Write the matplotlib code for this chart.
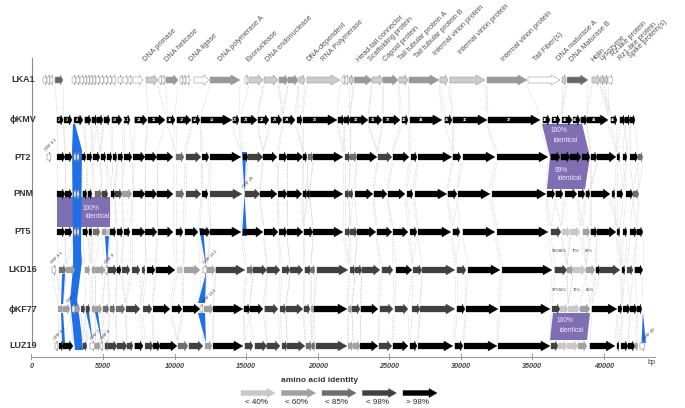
import matplotlib
matplotlib.use('Agg')
import matplotlib.pyplot as plt
from matplotlib.patches import Polygon

plt.rcParams['font.family'] = ['Liberation Sans', 'DejaVu Sans']

# ---------------- data ----------------
ROWS = ['LKA1', 'ϕKMV', 'PT2', 'PNM', 'PT5', 'LKD16', 'ϕKF77', 'LUZ19']

# LKA1 genes: (start bp, end bp, shade 0=white 1=light 2=mid 3=dark)
LKA1 = [(810, 1090, 0), (1090, 1300, 0), (1300, 1510, 0), (1650, 2210, 3),
        (2840, 3120, 0), (3120, 3400, 0), (3400, 3670, 0), (3670, 3880, 0), (3880, 4090, 0),
        (4090, 4300, 0), (4300, 4510, 0), (4510, 4790, 0), (4790, 5070, 0), (5070, 5350, 0),
        (5350, 5630, 0), (5630, 5910, 0), (6050, 6330, 0), (6400, 6750, 0), (6750, 7030, 0),
        (7100, 7800, 0), (8010, 8840, 1), (8910, 9120, 0), (9120, 9330, 0), (9400, 10240, 2),
        (10380, 10590, 0), (10590, 10800, 0), (10800, 11080, 0), (11360, 12410, 0),
        (12480, 14570, 2), (14920, 15130, 0), (15200, 16180, 1), (16250, 17230, 1),
        (17300, 17930, 2), (17930, 18630, 2), (18690, 19110, 1), (19250, 21560, 1),
        (21700, 21910, 0), (21910, 22120, 0), (22190, 22470, 1), (22540, 23790, 2),
        (23790, 24560, 1), (24560, 25610, 2), (25680, 26310, 1), (26380, 28470, 2),
        (28540, 29100, 1), (29240, 31690, 1), (31830, 34620, 2), (34690, 36930, 0),
        (37070, 37350, 1), (37420, 38880, 3), (39160, 39720, 1), (39720, 40000, 1),
        (40000, 40280, 1), (40280, 40630, 0)]

LKA1_FUNCTIONS = [(8080, 63, 'DNA primase'), (9540, 63, 'DNA helicase'), (11290, 63, 'DNA ligase'),
                  (13320, 63, 'DNA polymerase A'), (15270, 63, 'Exonuclease'),
                  (16600, 63, 'DNA endonuclease'), (19460, 63, 'DNA-dependent'),
                  (20510, 63, 'RNA Polymerase'), (22960, 63, 'Head-tail connector'),
                  (23790, 63, 'Scaffolding protein'), (24840, 63, 'Capsid protein'),
                  (25890, 62, 'Tail tubular protein A'), (27010, 60, 'Tail tubular protein B'),
                  (28340, 57, 'Internal virion protein'), (30080, 56, 'Internal virion protein'),
                  (33090, 63, 'Internal virion protein'), (35320, 63, 'Tail Fiber(s)'),
                  (36930, 62, 'DNA maturase A'), (37840, 63, 'DNA Maturase B'),
                  (39370, 63, 'Holin'), (39930, 62, 'Lysozyme'), (40770, 58, 'Rz-like protein'),
                  (41260, 62, 'Rz1-like protein'), (41960, 60, 'Spike protein(s)')]

# phiKMV genes (start, end, label); all > 98 %
KMV = [(1790, 2210, '2'), (2280, 2840, '3'), (2980, 3600, '4'), (3740, 4160, ''), (4230, 4580, ''),
       (4580, 5000, ''), (5070, 5490, ''), (5630, 6330, '12'), (6470, 6890, '12.1'),
       (7230, 8080, '14'), (8150, 9330, '15'), (9470, 10030, '16'), (10170, 11150, '17'),
       (11220, 11780, '18'), (11850, 14010, '19'), (14080, 14500, '20'), (14640, 15760, '21'),
       (15830, 16600, '22'), (16740, 17510, '23'), (17580, 18420, '24'), (18560, 18900, ''),
       (18970, 21350, '26'), (21420, 21840, ''), (21840, 22260, ''), (22260, 23510, '30'),
       (23580, 24490, '31'), (24560, 25750, '32'), (25890, 26310, '33'), (26450, 28680, '34'),
       (28890, 29380, '35'), (29450, 31830, '36'), (31900, 35530, '37'), (35740, 36230, '38'),
       (36370, 36930, '39'), (37070, 37770, '40'), (37840, 38330, '41'), (38390, 38810, ''),
       (38810, 40280, '43'), (40490, 40910, '45'), (41120, 41470, ''), (41470, 41820, ''),
       (41820, 42170, '')]

# identity class: 0 none, 1 <40, 2 <60, 3 <85, 4 <98, 5 >98
PT2 = [(1090, 1370, 0), (1790, 2350, 5), (2350, 2840, 5), (2980, 3120, 0), (3190, 3330, 0),
       (3530, 3810, 5), (3880, 4230, 5), (4300, 4790, 5), (4860, 5210, 5), (5280, 5630, 5),
       (5700, 5980, 5), (6050, 6400, 5), (6470, 7030, 5), (7100, 7940, 5), (7940, 8770, 5),
       (8770, 9890, 5), (10100, 10660, 3), (10800, 11850, 4), (11920, 12400, 5), (12480, 14640, 5),
       (14780, 15130, 5), (15130, 16180, 4), (16180, 17160, 5), (17300, 17860, 5),
       (17860, 18970, 5), (18970, 19250, 5), (19320, 19670, 3), (19670, 21770, 5),
       (21910, 22260, 4), (22260, 22750, 3), (22750, 24140, 5), (24210, 25190, 4),
       (25260, 26380, 5), (26520, 26940, 5), (27010, 29380, 5), (29450, 30010, 5),
       (30150, 32390, 5), (32530, 36090, 5), (36300, 36930, 5), (37000, 37630, 5),
       (37630, 38390, 5), (38470, 39020, 5), (39090, 39510, 5), (39510, 40840, 5),
       (40910, 41120, 5), (41330, 41610, 5), (41820, 42370, 5), (42370, 42720, 3)]

PNM = [(1790, 2350, 5), (2350, 2840, 5), (2980, 3120, 0), (3190, 3330, 0), (3600, 3880, 5),
       (3950, 4230, 5), (4440, 4930, 3), (4930, 5350, 4), (5560, 5840, 5), (5840, 6330, 4),
       (6330, 7030, 2), (7100, 7940, 5), (7940, 8770, 5), (8770, 9890, 5), (10100, 10660, 3),
       (10800, 11850, 4), (11920, 12340, 5), (12480, 14710, 4), (14920, 15970, 4),
       (15970, 17160, 5), (17230, 17860, 5), (17860, 18900, 5), (18970, 19250, 5),
       (19250, 19460, 5), (19460, 21770, 5), (21910, 22190, 4), (22190, 22470, 4),
       (22610, 23860, 5), (23930, 24840, 5), (24910, 26100, 5), (26240, 26660, 5),
       (26800, 29030, 5), (29100, 29730, 5), (29800, 32040, 5), (32180, 35950, 5),
       (36020, 36570, 5), (36640, 37140, 5), (37280, 38110, 5), (38190, 38670, 5),
       (38740, 39020, 5), (39090, 40420, 5), (40560, 40770, 5), (40910, 41330, 5),
       (41540, 42030, 5), (42030, 42440, 3)]

PT5 = [(1790, 2350, 5), (2350, 2840, 5), (2980, 3120, 0), (3190, 3330, 0), (3600, 3950, 5),
       (4020, 4230, 5), (4300, 4790, 3), (4930, 5280, 2), (5280, 5490, 1), (5490, 5910, 5),
       (5980, 6400, 5), (6470, 6890, 5), (7030, 7940, 5), (7940, 8770, 5), (8840, 9890, 5),
       (10100, 10590, 5), (10730, 11640, 5), (11780, 12480, 5), (12480, 14640, 5),
       (14780, 16180, 5), (16250, 17230, 5), (17300, 17860, 5), (17860, 18970, 5),
       (19040, 19670, 5), (19670, 21770, 5), (21910, 22260, 4), (22260, 22750, 4),
       (22750, 24070, 5), (24140, 25190, 5), (25260, 26310, 5), (26450, 26940, 5),
       (27010, 29310, 5), (29450, 29940, 5), (30150, 32390, 5), (32530, 36090, 5),
       (36300, 37000, 4), (37070, 37630, 1), (37630, 38330, 1), (38530, 39020, 2),
       (39090, 39510, 5), (39510, 40840, 5), (40910, 41120, 5), (41330, 41610, 5),
       (41820, 42300, 5), (42300, 42720, 5)]

LKD16 = [(1440, 1720, 0), (1930, 2420, 3), (2420, 3050, 2), (3740, 4090, 2), (4230, 4440, 2),
         (4440, 5140, 2), (5140, 5350, 0), (5350, 5980, 4), (5980, 6260, 5), (6330, 6890, 4),
         (7030, 7590, 4), (7730, 7940, 4), (8080, 8630, 5), (8700, 10030, 5), (10170, 10590, 1),
         (10660, 11780, 2), (11990, 12270, 0), (12270, 12830, 2), (12890, 14920, 4),
         (15060, 15480, 3), (15480, 16450, 4), (16450, 17370, 4), (17510, 18070, 4),
         (18070, 18970, 4), (19110, 19530, 4), (19530, 19810, 3), (19950, 22120, 4),
         (22260, 22610, 4), (22610, 23090, 4), (23090, 24350, 4), (24490, 25260, 4),
         (25470, 26590, 5), (26660, 27290, 4), (27290, 29590, 4), (29730, 30360, 4),
         (30500, 32740, 5), (32880, 36370, 5), (36570, 37420, 4), (37420, 37840, 2),
         (37840, 38740, 1), (38740, 39370, 2), (39440, 39720, 5), (39720, 41120, 4),
         (41260, 41470, 5), (41610, 42030, 4), (42160, 42720, 5)]

KF77 = [(1860, 2210, 2), (2210, 2700, 2), (2840, 3050, 0), (3050, 3400, 2), (3470, 3740, 4),
        (3810, 4090, 4), (4230, 4440, 2), (4440, 4930, 2), (5000, 5420, 3), (5490, 5840, 3),
        (5910, 6540, 3), (6610, 7590, 4), (7800, 8420, 4), (8500, 9680, 5), (9820, 10520, 5),
        (10590, 11780, 5), (11780, 11990, 0), (12060, 12690, 2), (12690, 14780, 5),
        (14850, 15270, 5), (15270, 16180, 5), (16310, 17230, 4), (17370, 17790, 4),
        (17790, 18970, 4), (19040, 19460, 4), (19530, 19740, 2), (19740, 22050, 5),
        (22120, 22400, 2), (22400, 22960, 4), (23020, 24210, 5), (24350, 25260, 4),
        (25400, 26310, 4), (26590, 27150, 4), (27150, 29590, 4), (29730, 30290, 5),
        (30360, 32600, 5), (32740, 36230, 5), (36370, 36930, 4), (36930, 37490, 1),
        (37490, 38330, 1), (38330, 39020, 2), (39160, 40910, 5), (40980, 41260, 5),
        (41330, 41820, 5), (41820, 42300, 5), (42300, 42650, 5)]

LUZ19 = [(1650, 1860, 0), (1930, 2210, 5), (2210, 2910, 5), (3600, 3880, 4), (4090, 4440, 0),
         (4440, 4790, 2), (4790, 5000, 0), (5140, 5350, 4), (5350, 5980, 4), (5980, 6680, 4),
         (6680, 7100, 4), (7230, 7800, 5), (7940, 8500, 4), (8500, 8980, 5), (8980, 10170, 5),
         (10240, 10940, 3), (11010, 11990, 4), (12130, 12620, 2), (12690, 14780, 5),
         (14920, 15480, 4), (15620, 16450, 4), (16450, 17370, 4), (17510, 17860, 4),
         (17860, 19110, 4), (19180, 19600, 3), (19600, 19810, 3), (19880, 22050, 4),
         (22120, 22470, 2), (22470, 22960, 2), (22960, 24210, 5), (24280, 25190, 4),
         (25260, 26310, 5), (26450, 26940, 5), (27010, 29450, 5), (29590, 30150, 5),
         (30220, 32530, 5), (32600, 36230, 5), (36300, 36790, 4), (36790, 37420, 1),
         (37420, 38190, 1), (38190, 38810, 2), (39020, 40770, 5), (40910, 41050, 5),
         (41190, 41680, 5), (41680, 42160, 5), (42160, 42370, 2), (42510, 42860, 0)]

ORF_LABELS = [(2, 1090, 'ORF 0.1'), (3, 14920, 'ORF 25'), (5, 1510, 'ORF 0.1'), (5, 5280, 'ORF 9'),
              (5, 12200, 'ORF 13.1'), (6, 2630, 'ORF 2'), (6, 12130, 'ORF 13.1'),
              (7, 1720, 'ORF 0.1'), (7, 4300, 'ORF 7'), (7, 5000, 'ORF 8'), (7, 42930, 'ORF 49')]

PCT_LKD16 = [(36640, '94%'), (37140, '61%'), (38050, '75%'), (38950, '87%')]
PCT_KF77 = [(36640, '97%'), (37140, '53%'), (38120, '72%'), (39020, '85%')]

LEGEND_LABELS = ['< 40%', '< 60%', '< 85%', '< 98%', '> 98%']
TICKS = [0, 5000, 10000, 15000, 20000, 25000, 30000, 35000, 40000]

# ---------------- layout / style ----------------
ROW_Y = [80, 120, 157, 194, 232, 270, 309, 346]
BP_PER_PX = 69.86
X0PX = 31.4
CLS_COL = {0: 'white', 1: '#c8c8c8', 2: '#a0a0a0', 3: '#6e6e6e', 4: '#404040', 5: '#000000'}
LKA_COL = {0: 'white', 1: '#cdcdcd', 2: '#999999', 3: '#666666'}
BLUE = '#1f6fe9'
PURPLE = '#7f6eb2'


def bp(px):
    return (px - X0PX) * BP_PER_PX


fig = plt.figure(figsize=(6.85, 4.08), dpi=100)
ax = fig.add_axes([0, 0, 1, 1])
ax.set_xlim(bp(0), bp(685))
ax.set_ylim(408, 0)
ax.axis('off')
ax2 = fig.add_axes([0, 0, 1, 1])
ax2.set_xlim(0, 685)
ax2.set_ylim(408, 0)
ax2.axis('off')
ax2.patch.set_alpha(0)


def arrow(a, x0, x1, y, fc, ec, hl_max, bh=3.0, hh=5.0, lw=0.3, z=3):
    L = x1 - x0
    hl = min(0.35 * L, hl_max)
    pts = [(x0, y - bh), (x1 - hl, y - bh), (x1 - hl, y - hh), (x1, y),
           (x1 - hl, y + hh), (x1 - hl, y + bh), (x0, y + bh)]
    a.add_patch(Polygon(pts, closed=True, fc=fc, ec=ec, lw=lw, zorder=z))
    return hl


HL = 9 * BP_PER_PX

# dotted connectors between homologous gene boundaries
all_rows = [[(s, e) for s, e, _ in LKA1 if _ != 0], [(s, e) for s, e, _ in KMV],
            [(s, e) for s, e, _ in PT2], [(s, e) for s, e, _ in PNM], [(s, e) for s, e, _ in PT5],
            [(s, e) for s, e, _ in LKD16], [(s, e) for s, e, _ in KF77], [(s, e) for s, e, _ in LUZ19]]
for r in range(len(all_rows) - 1):
    starts = [s for s, e in all_rows[r + 1]]
    ends = [e for s, e in all_rows[r + 1]]
    lim = 1500 if r == 0 else 700
    for s, e in all_rows[r]:
        for p, pool in ((s, starts), (e, ends)):
            t = min(pool, key=lambda v: abs(v - p))
            if abs(t - p) < lim:
                ax.plot([p, t], [ROW_Y[r] + 5.5, ROW_Y[r + 1] - 5.5], color='#c2c2c2', lw=0.5,
                        ls=(0, (1, 1.6)), zorder=0.5)

# purple identity blocks
P1 = [(35670, 124), (38470, 124), (39020, 157), (38670, 189), (36020, 189), (36230, 157)]
P2 = [(bp(57), 197), (bp(110), 197), (bp(110), 227), (bp(57), 227)]
P3 = [(36440, 313), (39020, 313), (38810, 340), (36230, 340)]
for poly in (P1, P2, P3):
    ax.add_patch(Polygon(poly, closed=True, fc=PURPLE, ec='none', zorder=1))
for x, y, t in [(36300, 131, '100%'), (36440, 140, 'identical'), (36580, 170, '99%'),
                (36720, 179, 'identical'), (bp(83), 208, '100%'), (bp(85), 217, 'identical'),
                (36720, 321, '100%'), (36860, 330, 'identical')]:
    ax.text(x, y, t, fontsize=4.8, color='#efeaff', ha='left', va='center', zorder=6)

# blue bands
MAIN_L = [(2910, 124), (2840, 150), (2910, 250), (2910, 268), (2700, 300), (2910, 330), (3050, 350)]
MAIN_R = [(3050, 124), (3530, 150), (3470, 250), (3530, 262), (3190, 300), (3470, 330), (3600, 350)]
BANDS = [MAIN_L + MAIN_R[::-1],
         [(14710, 152), (15000, 152), (14890, 194)], [(14890, 194), (14710, 236), (15060, 236)],
         [(5140, 236), (5420, 236), (5280, 266)],
         [(11710, 228), (12000, 228), (12200, 266)],
         [(12200, 273), (11640, 303), (12130, 303)],
         [(11640, 313), (12130, 313), (12200, 343)],
         [(2140, 274), (2350, 274), (2210, 304), (2070, 304)],
         [(2070, 313), (2210, 313), (2350, 343), (2140, 343)],
         [(3810, 312), (4020, 312), (4300, 343)],
         [(4440, 312), (4650, 312), (4930, 343)],
         [(42720, 312), (42620, 343), (42930, 343)]]
for poly in BANDS:
    ax.add_patch(Polygon(poly, closed=True, fc=BLUE, ec='none', zorder=2))

# genes
for s, e, c in LKA1:
    arrow(ax, s, e, ROW_Y[0], LKA_COL[c], '#9a9a9a', HL, lw=0.4)
for s, e, lab in KMV:
    hl = arrow(ax, s, e, ROW_Y[1], 'black', 'black', HL)
    if lab:
        ax.text((s + e - hl) / 2, ROW_Y[1], lab, fontsize=2.8, color='white', ha='center',
                va='center', weight='bold', zorder=5)
for ri, genes in [(2, PT2), (3, PNM), (4, PT5), (5, LKD16), (6, KF77), (7, LUZ19)]:
    for s, e, c in genes:
        ec = '#8a8a8a' if c == 0 else CLS_COL[c]
        arrow(ax, s, e, ROW_Y[ri], CLS_COL[c], ec, HL, lw=0.4 if c == 0 else 0.2)

# function labels
for x, y, t in LKA1_FUNCTIONS:
    ax.text(x, y, t, rotation=45, rotation_mode='anchor', ha='left', va='bottom',
            fontsize=5.3, color='#555555')

# ORF labels
for ri, x, t in ORF_LABELS:
    ax.text(x, ROW_Y[ri] - 5, t, rotation=45, rotation_mode='anchor', ha='left', va='bottom',
            fontsize=3, color='#333333', zorder=6)
for x, t in PCT_LKD16:
    ax.text(x, 251, t, fontsize=3, color='#333333', ha='center', va='center')
for x, t in PCT_KF77:
    ax.text(x, 290, t, fontsize=3, color='#333333', ha='center', va='center')

# row labels
for name, y in zip(ROWS, ROW_Y):
    ax2.text(23, y, name, fontsize=6.5, weight='bold', color='#333333', ha='center', va='center')
ax2.plot([32, 32], [58, 345], color='#8c8c8c', lw=0.8)

# x axis
ax.plot([0, bp(655)], [357, 357], color='#9a9a9a', lw=0.8)
for t in TICKS:
    ax.plot([t, t], [354, 359], color='#9a9a9a', lw=0.7)
    ax.text(t, 366, str(t), fontsize=5.2, style='italic', weight='bold', color='#444444',
            ha='center', va='center')
ax.text(bp(652), 363, 'bp', fontsize=5.2, color='#444444', ha='center', va='center')

# legend
ax2.text(320, 381, 'amino acid identity', fontsize=6, weight='bold', color='#333333',
         ha='center', va='center')
for i, lab in enumerate(LEGEND_LABELS):
    x0 = 241 + i * 40.5
    arrow(ax2, x0, x0 + 34, 393, CLS_COL[i + 1], CLS_COL[i + 1], 8, bh=2.5, hh=4.5)
    ax2.text(x0 + 15, 402, lab, fontsize=5.8, color='#222222', ha='center', va='center')

fig.savefig('out.png', dpi=100)
